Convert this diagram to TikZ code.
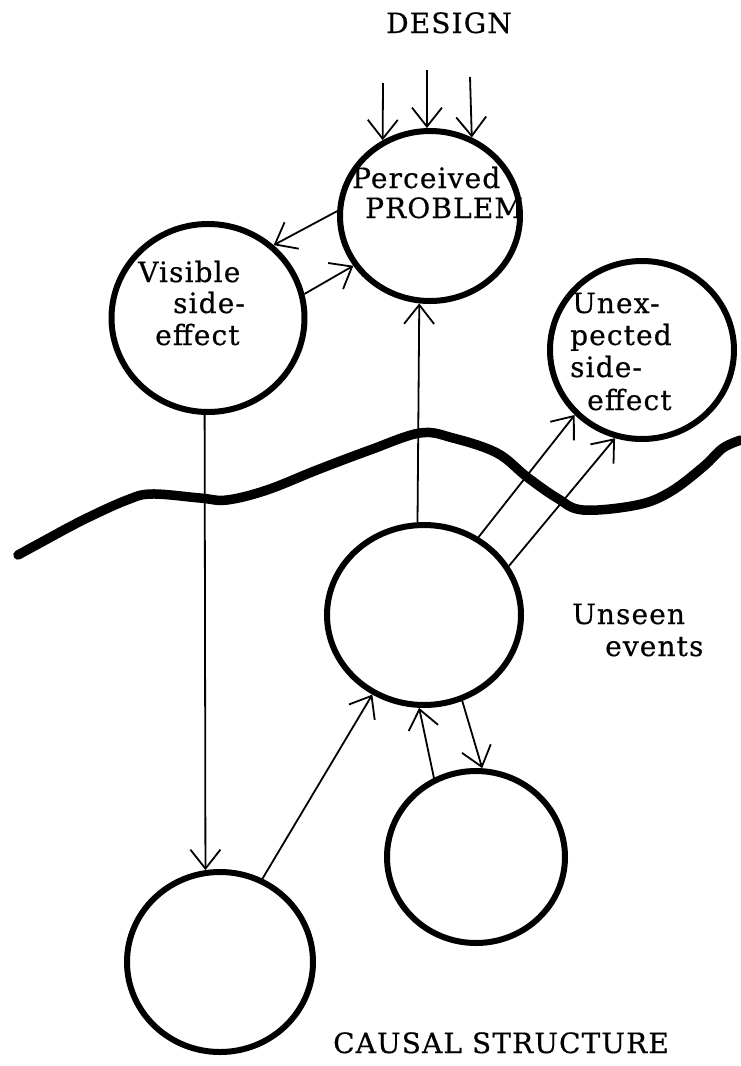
\documentclass[tikz,border=0pt]{standalone}
\usepackage{fontspec}
\setmainfont{DejaVu Serif}[LetterSpace=4, FakeBold=0.6]
\usetikzlibrary{arrows.meta,shapes.geometric}
\begin{document}
\begin{tikzpicture}[x=1pt,y=-1pt,
  blob/.style={draw, ellipse, line width=6pt, inner sep=0pt},
  conn/.style={line width=1.8pt, -{Straight Barb[length=19pt,width=30pt]}},
  wave/.style={line width=9.5pt, line cap=round, line join=round},
  lab/.style={inner sep=0pt, font=\fontsize{28}{32}\selectfont}]
\path[use as bounding box] (0,0) rectangle (741,1066);

% circles
\node[blob, minimum width=180pt, minimum height=170pt] (P) at (430,216) {};
\node[blob, minimum width=193pt, minimum height=188pt] (V) at (208,318) {};
\node[blob, minimum width=184pt, minimum height=178pt] (X) at (642,350) {};
\node[blob, minimum width=194pt, minimum height=180pt] (U) at (424,615) {};
\node[blob, minimum width=178pt, minimum height=172pt] (L) at (476,857) {};
\node[blob, minimum width=186pt, minimum height=180pt] (B) at (220,962) {};

% texts
\node[lab, anchor=base] (design) at (449,33) {DESIGN};
\node[lab, anchor=base west] (perc) at (352,188) {Perceived};
\node[lab, anchor=base west] (prob) at (365,218) {PROBLEM};
\node[lab, anchor=base west] (vis1) at (138,282) {Visible};
\node[lab, anchor=base west] (vis2) at (173,313) {side-};
\node[lab, anchor=base west] (vis3) at (155,345) {effect};
\node[lab, anchor=base west] (un1) at (572,313) {Unex-};
\node[lab, anchor=base west] (un2) at (570,345) {pected};
\node[lab, anchor=base west] (un3) at (570,377) {side-};
\node[lab, anchor=base west] (un4) at (587,410) {effect};
\node[lab, anchor=base west] (ev1) at (572,624) {Unseen};
\node[lab, anchor=base west] (ev2) at (605,656) {events};
\node[lab, anchor=base west] (causal) at (333,1053) {CAUSAL STRUCTURE};

% wavy boundary
\draw[wave] plot[smooth, tension=0.6] coordinates {(18,555) (40,543) (83,520) (127,500) (152,494) (200,498) (227,500) (267,490) (317,470) (370,450) (420,433) (453,438) (497,453) (527,477) (557,498) (583,510) (637,505) (670,492) (703,467) (723,448) (741,440)};

% design inputs
\coordinate (d1) at (383,83);
\coordinate (d2) at (427,70);
\coordinate (d3) at (470,77);
\draw[conn] (d1) -- (P.122);
\draw[conn] (d2) -- (P.92);
\draw[conn] (d3) -- (P.62);

% connectors
\draw[conn] (P.177) -- (V.48);
\draw[conn] (V.14) -- (P.213);
\draw[conn] (V.268) -- (B.99);
\draw[conn] (B.63) -- (U.237);
\draw[conn] (U.94) -- (P.263);
\draw[conn] (U.55) -- (X.224);
\draw[conn] (U.30) -- (X.253);
\draw[conn] (L.118) -- (U.267);
\draw[conn] (U.294) -- (L.86);
\end{tikzpicture}
\end{document}
